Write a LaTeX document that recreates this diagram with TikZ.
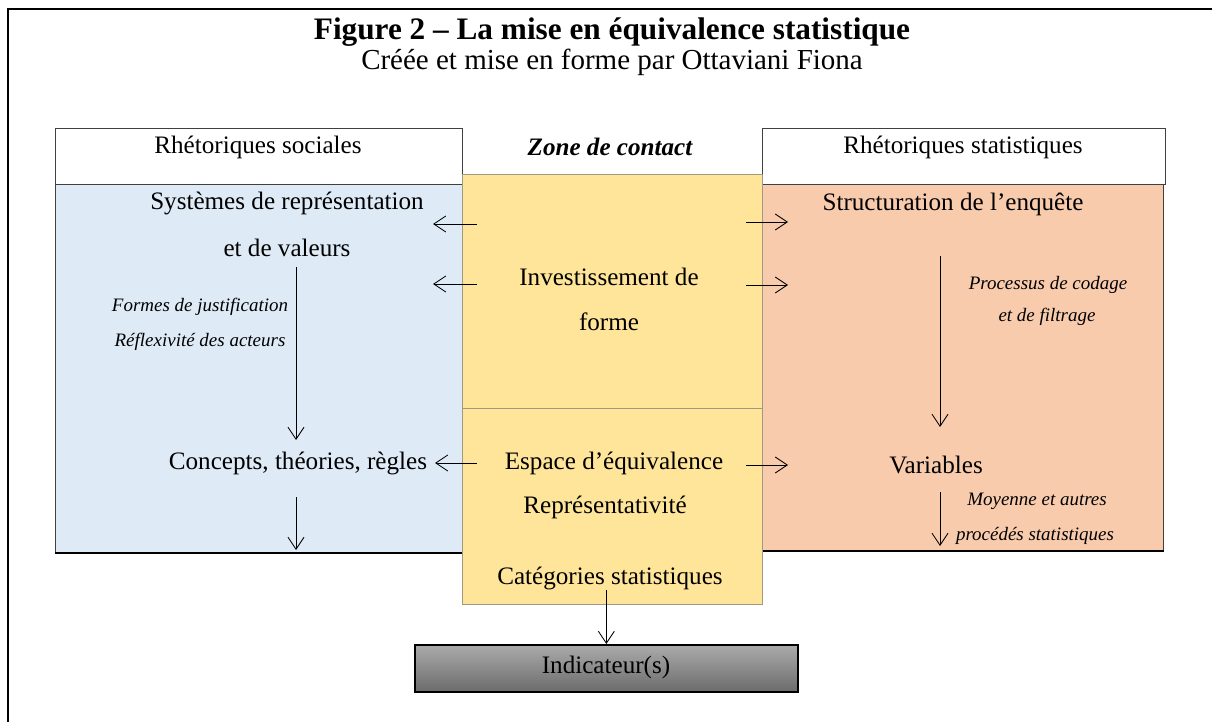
\documentclass[tikz,border=0pt]{standalone}
\usepackage{fontspec}
\setmainfont{Liberation Serif}
\usetikzlibrary{arrows.meta}
\definecolor{socblue}{HTML}{DEEAF6}
\definecolor{zoneyellow}{HTML}{FFE599}
\definecolor{statorange}{HTML}{F8CBAD}
\definecolor{zoneline}{HTML}{A09A80}
\tikzset{every picture/.style={line width=0.5pt}}
\tikzset{panel/.style={draw=black!75, anchor=north west, inner sep=0pt, line width=0.6pt}}
\tikzset{lbl/.style={inner sep=0pt, font=\fontsize{14.3}{16}\selectfont}}
\tikzset{note/.style={inner sep=0pt, font=\fontsize{10.8}{12}\selectfont\itshape}}
\tikzset{arr/.style={-{Straight Barb[length=2.4mm,width=3.2mm]}}}

\begin{document}
\begin{tikzpicture}[x=0.02cm,y=-0.02cm]
\useasboundingbox (0,0) rectangle (1212,722);
\draw[line width=1.1pt] (8,722) -- (8,9) -- (1212,9);
\node[inner sep=0pt, font=\fontsize{17.8}{20}\selectfont\bfseries] (title) at (612,32) {Figure 2 – La mise en équivalence statistique};
\node[inner sep=0pt, font=\fontsize{16.5}{19}\selectfont] (subtitle) at (612,62) {Créée et mise en forme par Ottaviani Fiona};
\node[panel, fill=white, minimum width=8.14cm, minimum height=1.12cm] (hsocbox) at (55,128) {};
\node[panel, fill=white, minimum width=8.06cm, minimum height=1.12cm] (hstatbox) at (762,128) {};
\node[panel, fill=socblue, minimum width=8.14cm, minimum height=7.36cm] (soc) at (55,184) {};
\node[panel, fill=statorange, minimum width=8.02cm, minimum height=7.32cm] (stat) at (762,184) {};
\draw[line width=1.2pt] (soc.south west) -- (soc.south east);
\draw[line width=1.2pt] (stat.south west) -- (stat.south east);
\node[panel, draw=zoneline, fill=zoneyellow, minimum width=6cm, minimum height=4.68cm] (zonetop) at (462,174) {};
\node[panel, draw=zoneline, fill=zoneyellow, minimum width=6cm, minimum height=3.92cm] (zonebot) at (462,408) {};
\node[panel, fill=gray, top color=black!33, bottom color=black!58, minimum width=7.66cm, minimum height=0.94cm, line width=1pt, draw=black] (indicbox) at (414,644) {};
\node[lbl] (hsoc) at (258,147) {Rhétoriques sociales};
\node[lbl] (hstat) at (963,147) {Rhétoriques statistiques};
\node[lbl, font=\fontsize{14.3}{16}\selectfont\bfseries\itshape] (zone) at (610,147) {Zone de contact};
\node[lbl] (sysrep) at (287,203) {Systèmes de représentation};
\node[lbl] (sysval) at (287,248) {et de valeurs};
\node[note] (justif) at (200,307) {Formes de justification};
\node[note] (reflex) at (200,342) {Réflexivité des acteurs};
\node[lbl] (concepts) at (298,463) {Concepts, théories, règles};
\node[lbl] (struct) at (953,204) {Structuration de l’enquête};
\node[note] (codage) at (1048,285) {Processus de codage};
\node[note] (filtrage) at (1047,317) {et de filtrage};
\node[lbl] (vars) at (936,465) {Variables};
\node[note] (moyenne) at (1037,501) {Moyenne et autres};
\node[note] (procedes) at (1035,536) {procédés statistiques};
\node[lbl] (invest) at (609,277) {Investissement de};
\node[lbl] (forme) at (609,322) {forme};
\node[lbl] (espace) at (614,463) {Espace d’équivalence};
\node[lbl] (repr) at (605,507) {Représentativité};
\node[lbl] (categ) at (610,578) {Catégories statistiques};
\node[lbl] (indic) at (606,667) {Indicateur(s)};
\coordinate (la) at (477,224);
\coordinate (lb) at (477,284);
\coordinate (lc) at (477,463);
\coordinate (la') at (433,224);
\coordinate (lb') at (433,284);
\coordinate (lc') at (435,463);
\coordinate (ra) at (746,222);
\coordinate (rb) at (746,285);
\coordinate (rc) at (746,465);
\coordinate (ra') at (788,222);
\coordinate (rb') at (788,285);
\coordinate (rc') at (788,465);
\coordinate (sd1) at (296,267);
\coordinate (sd2) at (296,440);
\coordinate (sd3) at (296,497);
\coordinate (sd4) at (296,550);
\coordinate (td1) at (940,256);
\coordinate (td2) at (940,427);
\coordinate (td3) at (940,492);
\coordinate (td4) at (940,546);
\draw[arr] (la) -- (la');
\draw[arr] (lb) -- (lb');
\draw[arr] (lc) -- (lc');
\draw[arr] (ra) -- (ra');
\draw[arr] (rb) -- (rb');
\draw[arr] (rc) -- (rc');
\draw[arr] (sd1) -- (sd2);
\draw[arr] (sd3) -- (sd4);
\draw[arr] (td1) -- (td2);
\draw[arr] (td3) -- (td4);
\draw[arr] (categ.south -| indicbox.north) -- (indicbox.north);
\end{tikzpicture}
\end{document}
